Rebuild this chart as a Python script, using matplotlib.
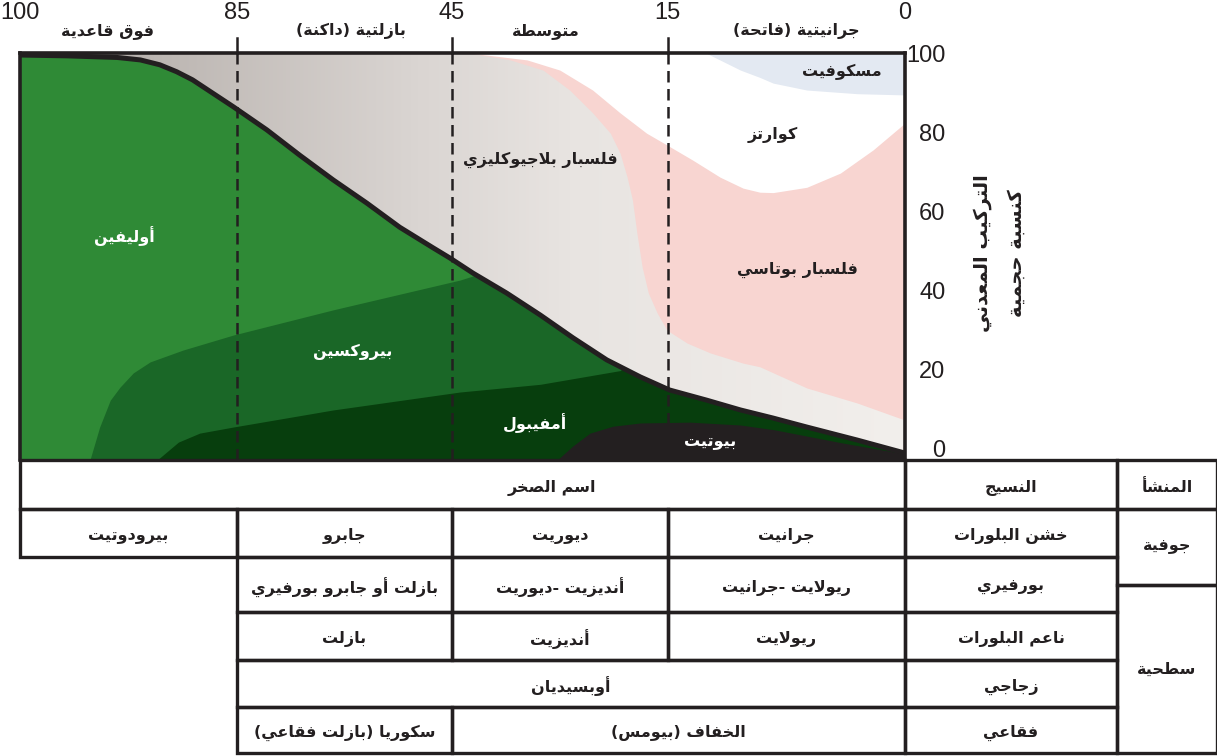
import numpy as np
import matplotlib
matplotlib.use("Agg")
import matplotlib.pyplot as plt
from matplotlib.colors import LinearSegmentedColormap
from matplotlib.patches import Polygon, Rectangle

# ---------------------------------------------------------------------------
# Minimal Arabic shaping: contextual presentation forms + visual (RTL) order
# ---------------------------------------------------------------------------
_FORM_TABLE = [
    ("\u0621", 0xFE80, 1), ("\u0622", 0xFE81, 2), ("\u0623", 0xFE83, 2),
    ("\u0624", 0xFE85, 2), ("\u0625", 0xFE87, 2), ("\u0626", 0xFE89, 4),
    ("\u0627", 0xFE8D, 2), ("\u0628", 0xFE8F, 4), ("\u0629", 0xFE93, 2),
    ("\u062A", 0xFE95, 4), ("\u062B", 0xFE99, 4), ("\u062C", 0xFE9D, 4),
    ("\u062D", 0xFEA1, 4), ("\u062E", 0xFEA5, 4), ("\u062F", 0xFEA9, 2),
    ("\u0630", 0xFEAB, 2), ("\u0631", 0xFEAD, 2), ("\u0632", 0xFEAF, 2),
    ("\u0633", 0xFEB1, 4), ("\u0634", 0xFEB5, 4), ("\u0635", 0xFEB9, 4),
    ("\u0636", 0xFEBD, 4), ("\u0637", 0xFEC1, 4), ("\u0638", 0xFEC5, 4),
    ("\u0639", 0xFEC9, 4), ("\u063A", 0xFECD, 4), ("\u0641", 0xFED1, 4),
    ("\u0642", 0xFED5, 4), ("\u0643", 0xFED9, 4), ("\u0644", 0xFEDD, 4),
    ("\u0645", 0xFEE1, 4), ("\u0646", 0xFEE5, 4), ("\u0647", 0xFEE9, 4),
    ("\u0648", 0xFEED, 2), ("\u0649", 0xFEEF, 2), ("\u064A", 0xFEF1, 4),
]
FORMS = {ch: tuple(chr(start + k) for k in range(n)) for ch, start, n in _FORM_TABLE}
LAM_ALEF = {
    "\u0622": ("\uFEF5", "\uFEF6"), "\u0623": ("\uFEF7", "\uFEF8"),
    "\u0625": ("\uFEF9", "\uFEFA"), "\u0627": ("\uFEFB", "\uFEFC"),
}
MIRROR = {"(": ")", ")": "("}


def _links_forward(c):
    return c in FORMS and len(FORMS[c]) == 4


def _joins(c):
    return c in FORMS and len(FORMS[c]) >= 2


def ar(text):
    chars = list(text)
    n = len(chars)
    out = []
    i = 0
    while i < n:
        c = chars[i]
        prev = chars[i - 1] if i > 0 else None
        nxt = chars[i + 1] if i + 1 < n else None
        if c == "\u0644" and nxt in LAM_ALEF:
            iso, fin = LAM_ALEF[nxt]
            out.append(fin if (prev is not None and _links_forward(prev)) else iso)
            i += 2
            continue
        if c not in FORMS:
            out.append(c)
            i += 1
            continue
        f = FORMS[c]
        cp = prev is not None and _links_forward(prev) and len(f) >= 2
        cn = nxt is not None and len(f) == 4 and _joins(nxt)
        if cp and cn:
            out.append(f[3])
        elif cn:
            out.append(f[2])
        elif cp:
            out.append(f[1])
        else:
            out.append(f[0])
        i += 1
    return "".join(MIRROR.get(c, c) for c in reversed(out))


# ---------------------------------------------------------------------------
# Data: mineral boundaries (x: position across the rock series 0..100,
# y: cumulative volume percent)
# ---------------------------------------------------------------------------
mafic_top_x = [0, 5.3, 11.0, 13.6, 15.8, 17.7, 19.5, 21.8, 24.1, 27.9, 31.6, 35.4,
               39.2, 42.9, 46.7, 48.6, 51.2, 55.0, 58.8, 62.5, 66.3, 70.1, 73.4,
               77.6, 81.4, 85.1, 88.9, 94.6, 100]
mafic_top_y = [99.5, 99.3, 98.9, 98.3, 97.1, 95.4, 93.4, 90.1, 86.8, 81.1, 74.9, 68.8,
               63.1, 57.2, 52.1, 49.6, 45.9, 41.0, 35.6, 30.0, 24.6, 20.4, 17.2,
               14.7, 12.3, 10.3, 8.1, 4.9, 1.7]

olivine_base_x = [0, 7.9, 9.0, 10.2, 11.3, 12.8, 14.7, 18.4, 24.1, 35.4, 49.7, 51.6]
olivine_base_y = [0, 0, 8.1, 14.7, 17.9, 21.4, 24.1, 27.0, 30.7, 36.9, 44.2, 45.5]

pyroxene_base_x = [0, 15.5, 17.9, 20.3, 24.1, 35.4, 49.7, 58.8, 67.9]
pyroxene_base_y = [0, 0, 4.4, 6.6, 8.1, 12.3, 16.7, 18.6, 22.0]

biotite_top_x = [60.7, 62.5, 64.4, 67.0, 70.1, 75.7, 81.4, 85.3, 92.9, 100]
biotite_top_y = [0, 3.5, 6.6, 8.3, 9.1, 9.3, 8.6, 7.4, 4.2, 1.5]

plagioclase_top_x = [50.8, 55.4, 59.1, 62.1, 64.7, 66.7, 67.8, 68.6, 69.2, 69.7, 70.3,
                     71.0, 72.0, 73.1, 75.4, 78.0, 81.7, 83.6, 88.9, 94.6, 100]
plagioclase_top_y = [100, 98.3, 95.8, 90.9, 85.3, 80.3, 75.4, 69.5, 63.9, 55.8, 47.4,
                     41.0, 36.1, 31.9, 28.7, 26.3, 23.8, 22.9, 17.7, 14.0, 9.8]

kfeldspar_top_x = [50.8, 57.3, 61.0, 64.7, 67.8, 70.8, 73.1, 76.0, 79.1, 81.7, 83.6,
                   85.1, 88.9, 92.7, 96.4, 100]
kfeldspar_top_y = [100, 98.3, 95.8, 90.9, 85.3, 80.3, 77.4, 73.7, 69.5, 66.8, 65.8,
                   65.7, 67.0, 70.5, 76.2, 82.8]

muscovite_base_x = [77.5, 81.4, 83.6, 85.1, 88.9, 94.6, 100]
muscovite_base_y = [100, 95.8, 94.0, 92.6, 90.9, 90.0, 89.7]

# Rock-series boundaries along the top scale
series_pos = [0, 24.5, 48.8, 73.2, 100]
series_labels = ["100", "85", "45", "15", "0"]
group_names = ["فوق قاعدية", "بازلتية (داكنة)", "متوسطة", "جرانيتية (فاتحة)"]
group_name_x = [9.9, 37.4, 59.4, 87.7]

composition_ticks = [0, 20, 40, 60, 80, 100]
axis_title = ["التركيب المعدني", "كنسبة حجمية"]

mineral_names = ["أوليفين", "بيروكسين", "أمفيبول", "بيوتيت",
                 "فلسبار بلاجيوكليزي", "كوارتز", "فلسبار بوتاسي", "مسكوفيت"]
mineral_label_x = [11.8, 37.6, 58.2, 78.0, 58.8, 85.1, 87.9, 92.9]
mineral_label_y = [55.0, 26.5, 9.1, 4.2, 73.7, 79.9, 46.7, 95.3]
mineral_label_white = [True, True, True, True, False, False, False, False]

# Classification table: (row, first column, last column, text)
table_cells = [
    (0, 0, 4, "اسم الصخر"), (0, 4, 5, "النسيج"), (0, 5, 6, "المنشأ"),
    (1, 0, 1, "بيرودوتيت"), (1, 1, 2, "جابرو"), (1, 2, 3, "ديوريت"),
    (1, 3, 4, "جرانيت"), (1, 4, 5, "خشن البلورات"),
    (2, 1, 2, "بازلت أو جابرو بورفيري"), (2, 2, 3, "أنديزيت -ديوريت"),
    (2, 3, 4, "ريولايت -جرانيت"), (2, 4, 5, "بورفيري"),
    (3, 1, 2, "بازلت"), (3, 2, 3, "أنديزيت"), (3, 3, 4, "ريولايت"),
    (3, 4, 5, "ناعم البلورات"),
    (4, 1, 4, "أوبسيديان"), (4, 4, 5, "زجاجي"),
    (5, 1, 2, "سكوريا (بازلت فقاعي)"), (5, 2, 4, "الخفاف (بيومس)"),
    (5, 4, 5, "فقاعي"),
]
origin_names = ["جوفية", "سطحية"]

# ---------------------------------------------------------------------------
# Style
# ---------------------------------------------------------------------------
INK = "#231f20"
C_OLIVINE = "#2f8a36"
C_PYROXENE = "#1a6727"
C_AMPHIBOLE = "#073e0d"
C_BIOTITE = "#231f20"
C_KFELD = "#f8d5d1"
C_QUARTZ = "#ffffff"
C_MUSC = "#e3e9f2"
AR_FONT = ["DejaVu Sans"]
NUM_FONT = ["Liberation Sans", "DejaVu Sans"]

W, H = 1217, 756
fig = plt.figure(figsize=(W / 100, H / 100), dpi=100)
fig.patch.set_facecolor("white")

# Chart area in pixel layout
L, R, T, B = 20, 905, 53, 460
ax = fig.add_axes([L / W, 1 - B / H, (R - L) / W, (B - T) / H])
ax.set_xlim(0, 100)
ax.set_ylim(0, 100)

# Plagioclase: horizontal grey gradient as background
plag_cmap = LinearSegmentedColormap.from_list(
    "plag", [(0.0, "#b1aaa6"), (0.15, "#bcb6b2"), (0.45, "#dad5d2"),
             (0.62, "#e8e4e1"), (1.0, "#f2efec")])
ax.imshow(np.linspace(0, 1, 512)[None, :], extent=(0, 100, 0, 100),
          aspect="auto", cmap=plag_cmap, zorder=0, interpolation="bilinear")

# Felsic minerals stacked from plagioclase upward
ax.fill_between(plagioclase_top_x, plagioclase_top_y, 100, color=C_KFELD, lw=0, zorder=1)
ax.fill_between(kfeldspar_top_x, kfeldspar_top_y, 100, color=C_QUARTZ, lw=0, zorder=2)
ax.fill_between(muscovite_base_x, muscovite_base_y, 100, color=C_MUSC, lw=0, zorder=3)

# Mafic minerals, confined below the dark boundary curve
mafic_poly = Polygon(np.column_stack([[0] + mafic_top_x + [100],
                                      [0] + mafic_top_y + [0]]),
                     closed=True, transform=ax.transData)
layers = [
    ax.fill_between([0, 100], 0, 100, color=C_AMPHIBOLE, lw=0, zorder=4),
    ax.fill_between(pyroxene_base_x, pyroxene_base_y, 100, color=C_PYROXENE, lw=0, zorder=5),
    ax.fill_between(olivine_base_x, olivine_base_y, 100, color=C_OLIVINE, lw=0, zorder=6),
    ax.fill_between(biotite_top_x, 0, biotite_top_y, color=C_BIOTITE, lw=0, zorder=7),
]
for layer in layers:
    layer.set_clip_path(mafic_poly)

ax.plot(mafic_top_x, mafic_top_y, color=INK, lw=3.6, zorder=8,
        solid_capstyle="round", solid_joinstyle="round")

# Series boundaries
for xp in series_pos[1:-1]:
    ax.axvline(xp, color=INK, lw=1.8, ls=(0, (4.6, 2.6)), zorder=9)
    ax.plot([xp, xp], [1.0, 1.037], transform=ax.get_xaxis_transform(),
            color=INK, lw=1.8, clip_on=False, zorder=9)

for name, lx, ly, white in zip(mineral_names, mineral_label_x, mineral_label_y,
                               mineral_label_white):
    ax.text(lx, ly, ar(name), ha="center", va="center", fontsize=11.5,
            fontweight="bold", family=AR_FONT,
            color="white" if white else INK, zorder=10)

# Frame
for side in ("left", "top", "right"):
    ax.spines[side].set_linewidth(2.6)
    ax.spines[side].set_color(INK)
    ax.spines[side].set_zorder(11)
ax.spines["bottom"].set_visible(False)

# Top scale
ax.xaxis.tick_top()
ax.set_xticks(series_pos)
ax.set_xticklabels(series_labels, family=NUM_FONT, fontsize=17, color=INK)
ax.tick_params(axis="x", length=0, pad=21)
ax.set_yticks([])
for name, gx in zip(group_names, group_name_x):
    ax.text(gx, 1.055, ar(name), transform=ax.get_xaxis_transform(),
            ha="center", va="center", fontsize=11.5, fontweight="bold",
            family=AR_FONT, color=INK)

# Right composition scale
ax2 = ax.twinx()
ax2.set_ylim(-3.0, 100)
ax2.set_yticks(composition_ticks)
ax2.set_yticklabels([str(t) for t in composition_ticks], family=NUM_FONT,
                    fontsize=17, color=INK, ha="right")
ax2.tick_params(axis="y", length=0, pad=29)
for s in ax2.spines.values():
    s.set_visible(False)

# Table and side titles drawn in figure pixel space
ov = fig.add_axes([0, 0, 1, 1])
ov.set_xlim(0, W)
ov.set_ylim(H, 0)
ov.axis("off")
ov.patch.set_alpha(0)

for title, tx in zip(axis_title, [982, 1016]):
    ov.text(tx, 253, ar(title), rotation=90, ha="center", va="center",
            fontsize=14, fontweight="bold", family=AR_FONT, color=INK)

col_edges = [20, 237, 452, 668, 905, 1117, 1217]
row_edges = [460, 509, 557, 612, 660, 707, 753]
LW_T = 2.4
for row, c0, c1, text in table_cells:
    x0, x1 = col_edges[c0], col_edges[c1]
    y0, y1 = row_edges[row], row_edges[row + 1]
    ov.add_patch(Rectangle((x0, y0), x1 - x0, y1 - y0, fill=False,
                           ec=INK, lw=LW_T, zorder=3))
    cx = (x0 + x1) / 2 if not (row == 0 and c0 == 0) else 552
    ov.text(cx, (y0 + y1) / 2 + 3, ar(text), ha="center", va="center",
            fontsize=11.5, fontweight="bold", family=AR_FONT, color=INK)

origin_split = 585
for text, (y0, y1) in zip(origin_names, [(row_edges[1], origin_split),
                                         (origin_split, row_edges[-1])]):
    ov.add_patch(Rectangle((col_edges[5], y0), col_edges[6] - col_edges[5],
                           y1 - y0, fill=False, ec=INK, lw=LW_T, zorder=3))
    ov.text((col_edges[5] + col_edges[6]) / 2, (y0 + y1) / 2, ar(text),
            ha="center", va="center", fontsize=11.5, fontweight="bold",
            family=AR_FONT, color=INK)

fig.savefig("out.png", dpi=100, facecolor="white")
